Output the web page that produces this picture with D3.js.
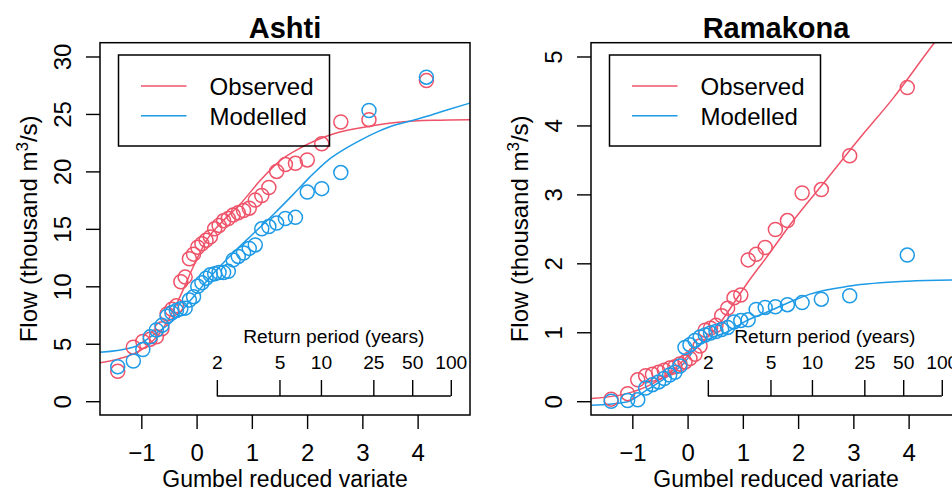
<!DOCTYPE html>
<html>
<head>
<meta charset="utf-8">
<script src="https://cdn.jsdelivr.net/npm/d3@7"></script>
<style>
  body { margin: 0; background: #fff; }
  svg { display: block; font-family: "Liberation Sans", Arial, Helvetica, sans-serif; }
</style>
</head>
<body>
<div id="chart"></div>
<script>
// Gumbel reduced variate (plotting positions) and sorted annual peaks, thousand m3/s
var ashtiVariate = [-1.427, -1.145, -0.973, -0.840, -0.727, -0.627, -0.534, -0.447, -0.365, -0.285,
    -0.207, -0.130, -0.055, 0.021, 0.096, 0.172, 0.249, 0.327, 0.407, 0.489, 0.574, 0.662, 0.754,
    0.850, 0.953, 1.062, 1.180, 1.308, 1.449, 1.607, 1.789, 2.003, 2.265, 2.610, 3.120, 4.159];
var ashtiObserved = [2.6, 4.7, 5.2, 5.4, 5.6, 6.3, 7.6, 8.0, 8.3, 10.4, 10.8, 12.4, 12.8, 13.4, 13.7,
    14.0, 14.3, 15.0, 15.3, 15.7, 15.9, 16.2, 16.4, 16.6, 16.8, 17.5, 17.9, 18.6, 20.0, 20.6, 20.7,
    21.0, 22.4, 24.3, 24.5, 27.9];
var ashtiModelled = [3.0, 3.5, 4.5, 5.6, 6.2, 6.6, 7.4, 7.7, 7.9, 8.05, 8.1, 8.8, 9.1, 10.0, 10.3,
    10.7, 11.0, 11.1, 11.2, 11.2, 11.3, 12.3, 12.6, 12.9, 13.3, 13.6, 15.0, 15.2, 15.5, 15.9, 16.0,
    18.2, 18.5, 19.9, 25.3, 28.2];

// fitted distribution curves
var ashtiObsFitX = [-1.75, -1.4, -1.15, -0.9, -0.67, -0.5, -0.3, -0.06, 0.18, 0.48, 0.78, 1.15, 1.5,
    1.9, 2.5, 3.1, 3.7, 4.3, 4.95];
var ashtiObsFitY = [3.35, 3.7, 4.1, 4.8, 5.9, 7.2, 9.1, 11.7, 14.0, 15.7, 17.1, 19.2, 20.9, 22.1,
    23.3, 23.9, 24.3, 24.45, 24.5];
var ashtiModFitX = [-1.75, -1.15, -0.79, -0.42, -0.06, 0.30, 0.66, 1.03, 1.4, 1.75, 2.05, 2.36, 2.7,
    2.96, 3.3, 3.56, 3.8, 4.17, 4.5, 4.95];
var ashtiModFitY = [4.26, 4.7, 5.74, 7.04, 9.07, 11.1, 12.9, 14.6, 16.3, 18.0, 19.5, 20.9, 22.0,
    22.7, 23.5, 24.0, 24.3, 24.8, 25.3, 25.95];

var ramakonaVariate = [-1.383, -1.085, -0.902, -0.759, -0.636, -0.524, -0.422, -0.324, -0.230,
    -0.138, -0.047, 0.043, 0.134, 0.226, 0.319, 0.415, 0.514, 0.617, 0.725, 0.840, 0.963, 1.096,
    1.241, 1.404, 1.589, 1.807, 2.073, 2.421, 2.934, 3.976];
var ramakonaObserved = [0.03, 0.11, 0.31, 0.37, 0.39, 0.42, 0.45, 0.48, 0.50, 0.54, 0.57, 0.62,
    0.68, 0.80, 1.03, 1.06, 1.10, 1.24, 1.35, 1.50, 1.54, 2.05, 2.13, 2.23, 2.49, 2.62, 3.02, 3.07,
    3.56, 4.55];
var ramakonaModelled = [0.00, 0.01, 0.02, 0.19, 0.24, 0.28, 0.33, 0.38, 0.42, 0.51, 0.78, 0.82,
    0.88, 0.93, 0.96, 0.99, 1.01, 1.04, 1.07, 1.15, 1.17, 1.18, 1.33, 1.36, 1.37, 1.40, 1.43, 1.48,
    1.53, 2.12];

var ramakonaObsFitX = [-1.74, -1.105, -0.623, -0.261, -0.018, 0.223, 0.525, 0.826, 1.069, 1.431,
    1.913, 2.518, 3.121, 3.725, 4.45, 4.95];
var ramakonaObsFitY = [0.04, 0.11, 0.26, 0.45, 0.64, 0.83, 1.07, 1.41, 1.70, 2.09, 2.62, 3.22, 3.82,
    4.40, 5.18, 5.68];
var ramakonaModFitX = [-1.74, -1.105, -0.743, -0.381, -0.08, 0.163, 0.404, 0.707, 1.069, 1.431,
    1.913, 2.2, 2.94, 3.98, 4.95];
var ramakonaModFitY = [-0.06, -0.01, 0.16, 0.35, 0.54, 0.78, 0.91, 1.00, 1.17, 1.29, 1.46, 1.55,
    1.67, 1.74, 1.76];

// axes / labels
var xLimits = [-1.5, 4.7];
var xTicks = [-1, 0, 1, 2, 3, 4];
var ashtiLimits = [0, 30];
var ashtiTicks = [0, 5, 10, 15, 20, 25, 30];
var ramakonaLimits = [0, 5];
var ramakonaTicks = [0, 1, 2, 3, 4, 5];
var returnPeriods = [2, 5, 10, 25, 50, 100];
var seriesNames = ["Observed", "Modelled"];
var seriesColors = ["#EF5369", "#1E9BE6"];

var WIDTH = 952, HEIGHT = 492;
var svg = d3.select("#chart").append("svg")
    .attr("width", WIDTH)
    .attr("height", HEIGHT);

// R style axis range: pad 4% each side
function padRange(lim) {
    var d = (lim[1] - lim[0]) * 0.04;
    return [lim[0] - d, lim[1] + d];
}
function gumbel(T) { return -Math.log(-Math.log(1 - 1 / T)); }
function fmtNum(d) { return d < 0 ? "\u2212" + Math.abs(d) : String(d); }
function zip(xs, ys) { return xs.map(function(v, i) { return [v, ys[i]]; }); }

function drawPanel(opts) {
    var box = opts.box;
    var x = d3.scaleLinear().domain(padRange(xLimits)).range([box.left, box.right]);
    var y = d3.scaleLinear().domain(padRange(opts.yLimits)).range([box.bottom, box.top]);
    var g = svg.append("g").attr("class", "panel-" + opts.id);

    g.append("clipPath").attr("id", "clip-" + opts.id)
      .append("rect")
        .attr("x", box.left).attr("y", box.top)
        .attr("width", box.right - box.left).attr("height", box.bottom - box.top);

    // x axis
    g.append("g")
        .attr("transform", "translate(0," + box.bottom + ")")
        .call(d3.axisBottom(x).tickValues(xTicks).tickSize(14).tickSizeOuter(0).tickFormat(fmtNum))
        .call(function(a) {
            a.attr("font-size", null).attr("font-family", null);
            a.select(".domain").remove();
            a.selectAll("line").attr("stroke", "#000").attr("stroke-width", 1.4);
            a.selectAll("text").attr("y", 46).attr("dy", null)
                .attr("fill", "#000").style("font-size", "24px");
        });

    // y axis, labels parallel to the axis
    g.append("g")
        .attr("transform", "translate(" + box.left + ",0)")
        .call(d3.axisLeft(y).tickValues(opts.yTicks).tickSize(14).tickSizeOuter(0).tickFormat(fmtNum))
        .call(function(a) {
            a.attr("font-size", null).attr("font-family", null);
            a.select(".domain").remove();
            a.selectAll("line").attr("stroke", "#000").attr("stroke-width", 1.4);
            a.selectAll("text").attr("x", null).attr("dy", null)
                .attr("transform", "translate(-29,0) rotate(-90)")
                .attr("text-anchor", "middle")
                .attr("fill", "#000").style("font-size", "24px");
        });

    // fitted curves
    var line = d3.line()
        .x(function(d) { return x(d[0]); })
        .y(function(d) { return y(d[1]); })
        .curve(d3.curveMonotoneX);
    var curves = g.append("g").attr("clip-path", "url(#clip-" + opts.id + ")");
    opts.fits.forEach(function(f, i) {
        curves.append("path")
            .attr("d", line(f))
            .attr("fill", "none")
            .attr("stroke", seriesColors[i])
            .attr("stroke-width", 1.5);
    });

    // points
    opts.series.forEach(function(s, i) {
        g.append("g").selectAll("circle")
            .data(zip(opts.variate, s))
          .enter().append("circle")
            .attr("cx", function(d) { return x(d[0]); })
            .attr("cy", function(d) { return y(d[1]); })
            .attr("r", 7)
            .attr("fill", "none")
            .attr("stroke", seriesColors[i])
            .attr("stroke-width", 1.5);
    });

    // return period axis inside the plot
    var rpY = 396;
    var rpX = returnPeriods.map(function(T) { return x(gumbel(T)); });
    var rp = g.append("g")
        .attr("transform", "translate(0," + rpY + ")")
        .call(d3.axisTop(x).tickValues(returnPeriods.map(gumbel)).tickSize(16).tickSizeOuter(0)
            .tickFormat(function(d, i) { return returnPeriods[i]; }))
        .call(function(a) {
            a.attr("font-size", null).attr("font-family", null);
            a.select(".domain").remove();
            a.selectAll("line").attr("stroke", "#000").attr("stroke-width", 1.4);
            a.selectAll("text").attr("y", -27.3).attr("dy", null)
                .attr("fill", "#000").style("font-size", "19.2px");
        });
    rp.append("line")
        .attr("x1", rpX[0]).attr("x2", rpX[rpX.length - 1])
        .attr("stroke", "#000").attr("stroke-width", 1.4);
    g.append("text")
        .attr("x", (rpX[0] + rpX[rpX.length - 1]) / 2)
        .attr("y", 342.7)
        .attr("text-anchor", "middle")
        .style("font-size", "19.2px")
        .text("Return period (years)");

    // frame
    g.append("rect")
        .attr("x", box.left).attr("y", box.top)
        .attr("width", box.right - box.left).attr("height", box.bottom - box.top)
        .attr("fill", "none").attr("stroke", "#000").attr("stroke-width", 1.5);

    // legend
    var lg = g.append("g").attr("transform", "translate(" + (box.left + 18.5) + ",55)");
    lg.append("rect")
        .attr("width", 211).attr("height", 91)
        .attr("fill", "none").attr("stroke", "#000").attr("stroke-width", 1.5);
    seriesNames.forEach(function(name, i) {
        var ly = 31 + i * 29.7;
        lg.append("line")
            .attr("x1", 22.5).attr("x2", 68).attr("y1", ly).attr("y2", ly)
            .attr("stroke", seriesColors[i]).attr("stroke-width", 1.5);
        lg.append("text")
            .attr("x", 91).attr("y", ly + 8.8)
            .style("font-size", "24px")
            .text(name);
    });

    // titles
    var cx = (box.left + box.right) / 2;
    g.append("text")
        .attr("x", cx).attr("y", 38)
        .attr("text-anchor", "middle")
        .style("font-size", "29px").style("font-weight", "bold")
        .text(opts.title);
    g.append("text")
        .attr("x", cx).attr("y", 487)
        .attr("text-anchor", "middle")
        .style("font-size", "23px")
        .text("Gumbel reduced variate");

    var yt = g.append("text")
        .attr("transform", "translate(" + (box.left - 63.3) + "," + ((box.top + box.bottom) / 2) + ") rotate(-90)")
        .attr("text-anchor", "middle")
        .style("font-size", "24px");
    yt.append("tspan").text("Flow (thousand m");
    yt.append("tspan").attr("dy", -9).style("font-size", "17px").text("3");
    yt.append("tspan").attr("dy", 9).text("/s)");
}

drawPanel({
    id: "ashti",
    title: "Ashti",
    box: { left: 100, right: 470, top: 42.7, bottom: 415 },
    yLimits: ashtiLimits,
    yTicks: ashtiTicks,
    variate: ashtiVariate,
    series: [ashtiObserved, ashtiModelled],
    fits: [zip(ashtiObsFitX, ashtiObsFitY), zip(ashtiModFitX, ashtiModFitY)]
});

drawPanel({
    id: "ramakona",
    title: "Ramakona",
    box: { left: 591, right: 961, top: 42.7, bottom: 415 },
    yLimits: ramakonaLimits,
    yTicks: ramakonaTicks,
    variate: ramakonaVariate,
    series: [ramakonaObserved, ramakonaModelled],
    fits: [zip(ramakonaObsFitX, ramakonaObsFitY), zip(ramakonaModFitX, ramakonaModFitY)]
});
</script>
</body>
</html>
